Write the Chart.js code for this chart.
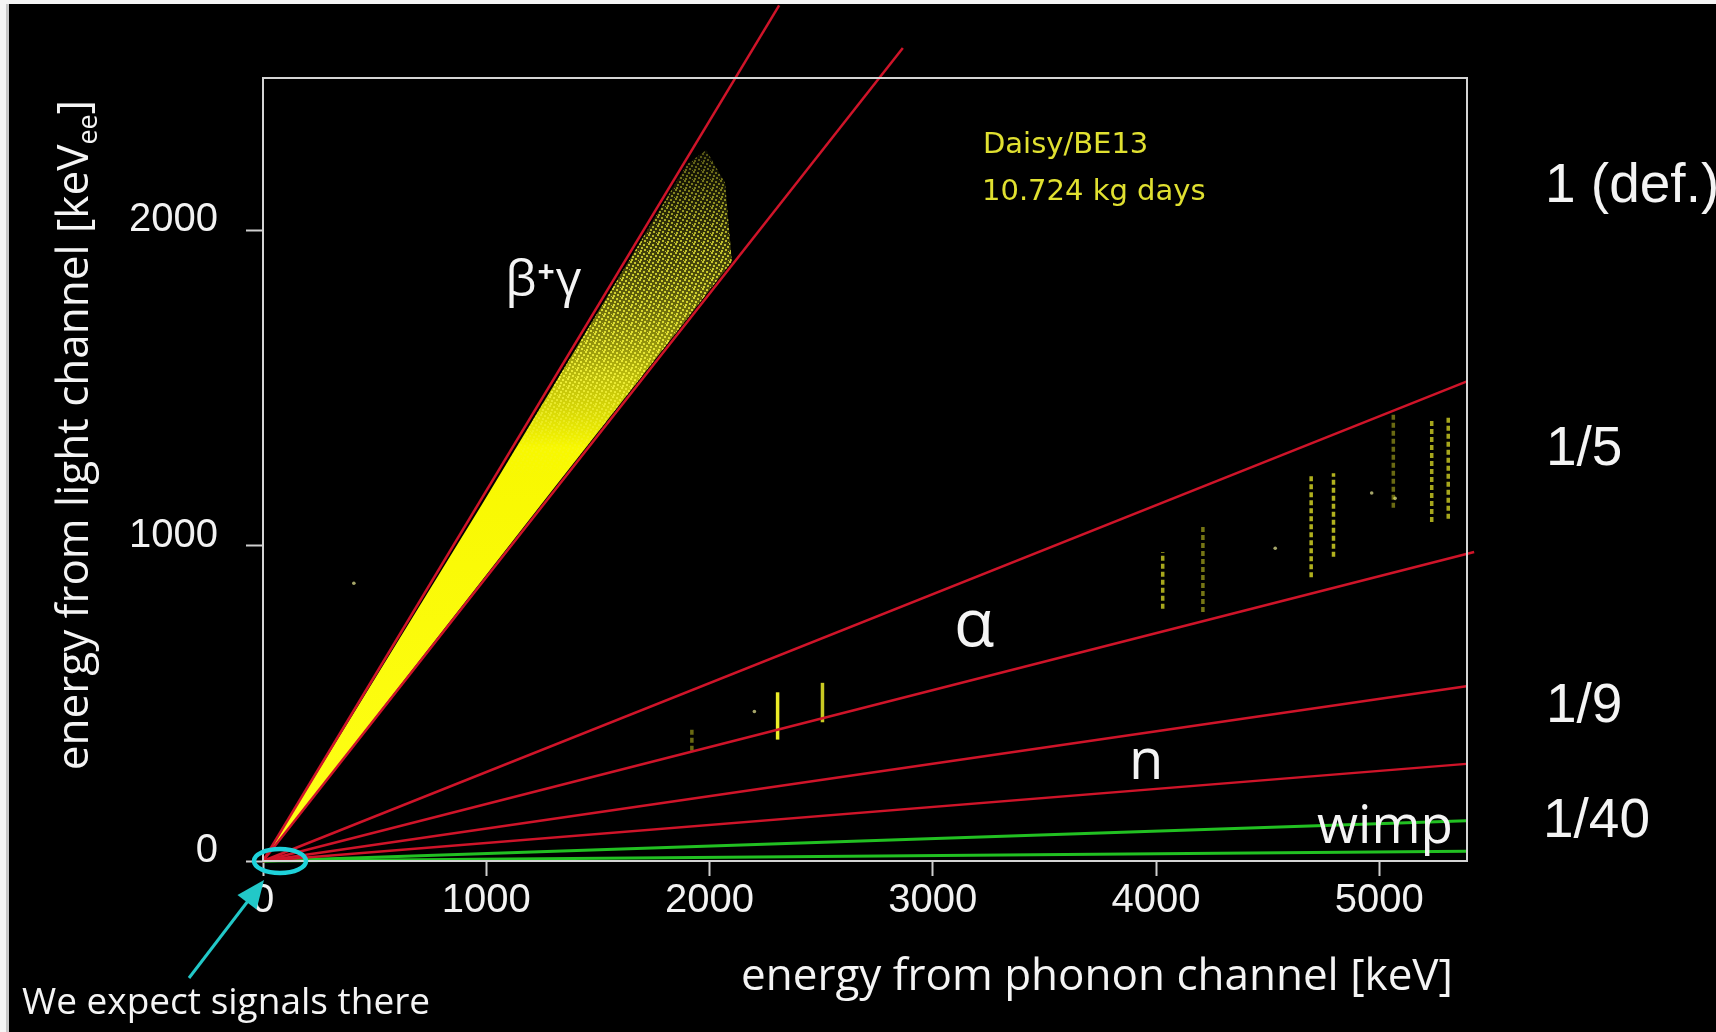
<!DOCTYPE html>
<html>
<head>
<meta charset="utf-8">
<script src="https://cdn.jsdelivr.net/npm/chart.js@4.4.1/dist/chart.umd.min.js"></script>
<style>
  html, body { margin: 0; padding: 0; background: #f4f4f4; overflow: hidden; }
  canvas { display: block; }
</style>
</head>
<body>
<canvas id="chart" width="1716" height="1032" style="width:1716px;height:1032px"></canvas>
<script>
// Axes: phonon energy [keV] and light energy [keVee]
const xMax = 5393;
const yMax = 2483;
const xTicks = [0, 1000, 2000, 3000, 4000, 5000];
const xTickLabels = ['0', '1000', '2000', '3000', '4000', '5000'];
const yTicks = [0, 1000, 2000];
const yTickLabels = ['0', '1000', '2000'];

// Band boundary lines, each running from the origin to its end point
const bandLineNames = ['betaUpper', 'betaLower', 'alphaUpper', 'alphaLower', 'nUpper', 'nLower', 'wimpUpper', 'wimpLower'];
const bandLineEndX = [2312, 2866, 5390, 5425, 5390, 5390, 5390, 5390];
const bandLineEndY = [2713, 2578, 1520, 980, 554, 308, 128, 31];
const bandLineKind = ['red', 'red', 'red', 'red', 'red', 'red', 'green', 'green'];

// Outline of the dense beta/gamma event population
const betaCloudX = [0, 980, 1700, 1900, 1985, 2070, 2100, 1300, 0];
const betaCloudY = [0, 1130, 1975, 2210, 2255, 2150, 1900, 1180, 0];

// Alpha lines: phonon energy and light-energy spread of each streak
const alphaLineX = [1921, 2305, 2506, 4030, 4210, 4695, 4795, 5063, 5235, 5309];
const alphaLineLow = [350, 385, 440, 800, 790, 900, 965, 1120, 1075, 1085];
const alphaLineHigh = [420, 535, 565, 980, 1060, 1220, 1230, 1420, 1400, 1410];
const alphaLineStrength = [0.45, 1, 0.85, 0.7, 0.5, 0.75, 0.75, 0.45, 0.7, 0.7];

// Isolated events outside the bands
const strayX = [407, 2201, 4534, 4966, 5071];
const strayY = [881, 474, 992, 1167, 1150];

// Quenching factor labels
const qfLabels = ['1 (def.)', '1/5', '1/9', '1/40'];

const TEXT_FONT = "'Open Sans', 'DejaVu Sans', sans-serif";
const NUM_FONT = "'Liberation Sans', Arial, sans-serif";
const LINE_COLORS = { red: '#cf1429', green: '#22c022' };

const datasets = [];

// Beta/gamma cloud, filled as a closed shape and thinning out with energy
datasets.push({
  type: 'line',
  label: 'beta/gamma',
  data: betaCloudX.map((x, i) => ({ x, y: betaCloudY[i] })),
  fill: 'shape',
  borderWidth: 0,
  pointRadius: 0,
  tension: 0,
  order: 5,
  backgroundColor: (c) => {
    const ch = c.chart;
    if (!ch.chartArea) return '#ffff00';
    const ys = ch.scales.y;
    const g = ch.ctx.createLinearGradient(0, ys.getPixelForValue(0), 0, ys.getPixelForValue(2260));
    g.addColorStop(0, '#ffff18');
    g.addColorStop(0.58, '#f8f800');
    g.addColorStop(0.68, 'rgba(235,235,15,0.8)');
    g.addColorStop(0.8, 'rgba(200,200,25,0.45)');
    g.addColorStop(0.92, 'rgba(160,160,30,0.22)');
    g.addColorStop(1, 'rgba(120,120,30,0.1)');
    return g;
  }
});

// Alpha streaks
alphaLineX.forEach((x, i) => {
  const s = alphaLineStrength[i];
  datasets.push({
    type: 'line',
    label: 'alpha ' + x,
    data: [{ x, y: alphaLineLow[i] }, { x, y: alphaLineHigh[i] }],
    borderColor: `rgba(236,236,40,${s})`,
    borderWidth: 3.5,
    borderDash: s >= 0.85 ? [] : [5, 3],
    pointRadius: 0,
    fill: false,
    order: 4
  });
});

// Stray events
datasets.push({
  type: 'scatter',
  label: 'stray',
  data: strayX.map((x, i) => ({ x, y: strayY[i] })),
  pointRadius: 1.8,
  pointBackgroundColor: 'rgba(220,220,140,0.75)',
  pointBorderWidth: 0,
  order: 4
});

// Band boundary lines
bandLineNames.forEach((name, i) => {
  datasets.push({
    type: 'line',
    label: name,
    data: [{ x: 0, y: 0 }, { x: bandLineEndX[i], y: bandLineEndY[i] }],
    borderColor: LINE_COLORS[bandLineKind[i]],
    borderWidth: bandLineKind[i] === 'green' ? 3 : 2.5,
    pointRadius: 0,
    fill: false,
    clip: false,
    order: 1
  });
});

// Slide background with the light margin at the top and left
const backdrop = {
  id: 'backdrop',
  beforeDraw(chart) {
    const c = chart.ctx;
    c.save();
    c.fillStyle = '#f5f5f5';
    c.fillRect(0, 0, chart.width, chart.height);
    c.fillStyle = '#c8c8c8';
    c.fillRect(6, 4, 3, chart.height);
    c.fillStyle = '#000000';
    c.fillRect(9, 4, chart.width - 9, chart.height - 4);
    c.restore();
  }
};

// Grainy texture over the sparse high-energy part of the beta/gamma cloud
const speckle = {
  id: 'speckle',
  afterDatasetDraw(chart, args) {
    if (args.index !== 0) return;
    const xs = chart.scales.x, ys = chart.scales.y;
    const tile = document.createElement('canvas');
    tile.width = 9; tile.height = 9;
    const tc = tile.getContext('2d');
    tc.fillStyle = '#f4f43c';
    [[0, 0], [4, 1], [7, 3], [2, 4], [5, 6], [1, 7], [8, 8]].forEach(([a, b]) => tc.fillRect(a, b, 2, 2));
    const off = document.createElement('canvas');
    off.width = chart.width; off.height = chart.height;
    const oc = off.getContext('2d');
    oc.fillStyle = oc.createPattern(tile, 'repeat');
    oc.fillRect(0, 0, off.width, off.height);
    oc.globalCompositeOperation = 'destination-in';
    const g = oc.createLinearGradient(0, ys.getPixelForValue(1200), 0, ys.getPixelForValue(2280));
    g.addColorStop(0, 'rgba(0,0,0,0)');
    g.addColorStop(0.3, 'rgba(0,0,0,0.85)');
    g.addColorStop(0.7, 'rgba(0,0,0,0.7)');
    g.addColorStop(1, 'rgba(0,0,0,0.25)');
    oc.fillStyle = g;
    oc.beginPath();
    betaCloudX.forEach((x, i) => {
      const X = xs.getPixelForValue(x), Y = ys.getPixelForValue(betaCloudY[i]);
      if (i === 0) oc.moveTo(X, Y); else oc.lineTo(X, Y);
    });
    oc.closePath();
    oc.fill();
    chart.ctx.drawImage(off, 0, 0);
  }
};

// Plot frame
const frame = {
  id: 'frame',
  afterDatasetsDraw(chart) {
    const a = chart.chartArea;
    const c = chart.ctx;
    c.save();
    c.strokeStyle = '#d4d4d4';
    c.lineWidth = 2;
    c.strokeRect(a.left, a.top, a.right - a.left, a.bottom - a.top);
    c.restore();
  }
};

// Labels, axis titles and the pointer to the low-energy region
const labels = {
  id: 'labels',
  afterDraw(chart) {
    const c = chart.ctx;
    const xs = chart.scales.x, ys = chart.scales.y;
    const px = (v) => xs.getPixelForValue(v);
    const py = (v) => ys.getPixelForValue(v);
    c.save();
    c.fillStyle = '#f4f4f4';
    c.textBaseline = 'alphabetic';

    // band names
    c.textAlign = 'left';
    let bx = px(1085), by = py(1791);
    c.font = `50px ${TEXT_FONT}`;
    c.fillText('β', bx, by);
    bx += c.measureText('β').width + 1;
    c.font = `bold 30px ${TEXT_FONT}`;
    c.fillText('+', bx, by - 14);
    bx += c.measureText('+').width + 1;
    c.font = `50px ${TEXT_FONT}`;
    c.fillText('γ', bx, by);

    c.textAlign = 'center';
    c.font = `66px ${TEXT_FONT}`;
    c.fillText('α', px(3185), py(682));
    c.font = `56px ${TEXT_FONT}`;
    c.fillText('n', px(3956), py(261));
    c.textAlign = 'right';
    c.font = `53px ${TEXT_FONT}`;
    c.fillText('wimp', px(5330), py(58));

    // quenching factors
    c.textAlign = 'left';
    c.font = `55px ${NUM_FONT}`;
    c.fillText(qfLabels[0], 1545, 202);
    c.fillText(qfLabels[1], 1546, 465);
    c.fillText(qfLabels[2], 1546, 722);
    c.fillText(qfLabels[3], 1543, 837);

    // detector / exposure note
    c.fillStyle = '#e0e030';
    c.font = `29px 'DejaVu Sans', sans-serif`;
    c.fillText('Daisy/BE13', 983, 153);
    c.fillText('10.724 kg days', 982, 200);

    // x axis title
    c.fillStyle = '#f4f4f4';
    c.textAlign = 'center';
    c.font = `44px ${TEXT_FONT}`;
    c.fillText('energy from phonon channel [keV]', 1097, 990);

    // y axis title with subscript
    c.save();
    c.translate(88, 435);
    c.rotate(-Math.PI / 2);
    c.textAlign = 'left';
    const main = 'energy from light channel [keV';
    c.font = `44px ${TEXT_FONT}`;
    const wMain = c.measureText(main).width;
    const wClose = c.measureText(']').width;
    c.font = `27px ${TEXT_FONT}`;
    const wSub = c.measureText('ee').width;
    let tx = -(wMain + wSub + wClose) / 2;
    c.font = `44px ${TEXT_FONT}`;
    c.fillText(main, tx, 0);
    tx += wMain;
    c.font = `27px ${TEXT_FONT}`;
    c.fillText('ee', tx, 9);
    tx += wSub;
    c.font = `44px ${TEXT_FONT}`;
    c.fillText(']', tx, 0);
    c.restore();

    // note at the bottom
    c.textAlign = 'left';
    c.font = `37px ${TEXT_FONT}`;
    c.fillText('We expect signals there', 22, 1014);

    // ring around the origin and arrow
    const ox = px(0), oy = py(0);
    c.strokeStyle = '#1ed2da';
    c.lineWidth = 4.5;
    c.beginPath();
    c.ellipse(ox + 17, oy, 26, 12, 0, 0, Math.PI * 2);
    c.stroke();

    const tipX = ox + 1, tipY = oy + 19;
    const tailX = 189, tailY = 978;
    const ang = Math.atan2(tipY - tailY, tipX - tailX);
    c.strokeStyle = '#22c8c8';
    c.fillStyle = '#22c8c8';
    c.lineWidth = 3;
    c.beginPath();
    c.moveTo(tailX, tailY);
    c.lineTo(tipX - 22 * Math.cos(ang), tipY - 22 * Math.sin(ang));
    c.stroke();
    c.beginPath();
    c.moveTo(tipX, tipY);
    c.lineTo(tipX - 28 * Math.cos(ang) + 12 * Math.sin(ang), tipY - 28 * Math.sin(ang) - 12 * Math.cos(ang));
    c.lineTo(tipX - 28 * Math.cos(ang) - 12 * Math.sin(ang), tipY - 28 * Math.sin(ang) + 12 * Math.cos(ang));
    c.closePath();
    c.fill();

    c.restore();
  }
};

new Chart(document.getElementById('chart'), {
  type: 'scatter',
  data: { datasets },
  options: {
    responsive: false,
    animation: false,
    devicePixelRatio: 1,
    layout: { padding: { left: 0, top: 78, right: 249, bottom: 0 } },
    plugins: { legend: { display: false }, tooltip: { enabled: false } },
    scales: {
      x: {
        type: 'linear',
        min: 0,
        max: xMax,
        afterBuildTicks: (s) => { s.ticks = xTicks.map((v) => ({ value: v })); },
        afterFit: (s) => { s.height = 171; },
        grid: { drawOnChartArea: false, drawTicks: true, tickLength: 15, tickColor: '#cfcfcf', tickWidth: 2 },
        border: { display: true, color: '#d4d4d4', width: 2 },
        ticks: {
          color: '#f2f2f2',
          font: { family: NUM_FONT, size: 40 },
          padding: 1,
          maxRotation: 0,
          autoSkip: false,
          callback: (v, i) => xTickLabels[i]
        }
      },
      y: {
        type: 'linear',
        min: 0,
        max: yMax,
        afterBuildTicks: (s) => { s.ticks = yTicks.map((v) => ({ value: v })); },
        afterFit: (s) => { s.width = 263; },
        grid: { drawOnChartArea: false, drawTicks: true, tickLength: 17, tickColor: '#cfcfcf', tickWidth: 2 },
        border: { display: true, color: '#d4d4d4', width: 2 },
        ticks: {
          color: '#f2f2f2',
          font: { family: NUM_FONT, size: 40 },
          padding: 28,
          labelOffset: -10,
          autoSkip: false,
          callback: (v, i) => yTickLabels[i]
        }
      }
    }
  },
  plugins: [backdrop, speckle, frame, labels]
});
</script>
</body>
</html>
